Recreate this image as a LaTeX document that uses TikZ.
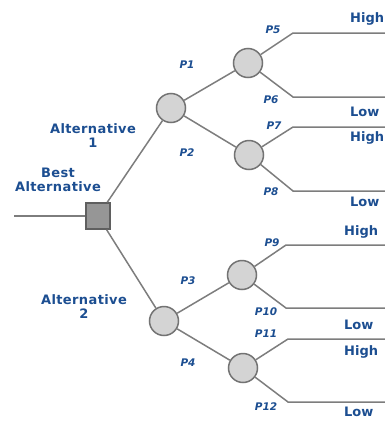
\documentclass[tikz,border=0pt]{standalone}
\usepackage{fontspec}
\setmainfont{DejaVu Sans}
\definecolor{labelblue}{RGB}{28,78,145}
\definecolor{linegray}{RGB}{125,125,125}
\definecolor{rimgray}{RGB}{115,115,115}
\definecolor{discgray}{RGB}{212,212,212}
\definecolor{boxgray}{RGB}{150,150,150}
\definecolor{boxrim}{RGB}{95,95,95}
\begin{document}
\begin{tikzpicture}[x=1pt,y=-1pt,
  branch/.style={draw=linegray,line width=1.5pt},
  chance/.style={circle,draw=rimgray,fill=discgray,line width=1.5pt,minimum size=29pt,inner sep=0pt},
  decision/.style={rectangle,draw=boxrim,fill=boxgray,line width=1.5pt,minimum width=24pt,minimum height=26pt,inner sep=0pt},
  prob/.style={text=labelblue,font=\fontsize{10.5}{12}\selectfont\bfseries\itshape,inner sep=0pt},
  outcome/.style={text=labelblue,font=\fontsize{13}{14}\selectfont\bfseries,inner sep=0pt,anchor=west},
  altlabel/.style={text=labelblue,font=\fontsize{13}{14}\selectfont\bfseries\addfontfeature{LetterSpace=3},align=center,inner sep=0pt}]
\useasboundingbox (0,0) rectangle (385,421);
\clip (0,0) rectangle (385,421);

% decision and chance nodes
\node[decision] (dec) at (98,216) {};
\node[chance] (c1) at (171,108) {};
\node[chance] (c2) at (164,321) {};
\node[chance] (c11) at (248,63) {};
\node[chance] (c12) at (249,155) {};
\node[chance] (c21) at (242,275) {};
\node[chance] (c22) at (243,368) {};

% incoming line and bend points of the leaves
\coordinate (in) at (14,216);
\coordinate (b5) at (293,33);   \coordinate (e5) at (385,33);
\coordinate (b6) at (293,97);   \coordinate (e6) at (385,97);
\coordinate (b7) at (293,127);  \coordinate (e7) at (385,127);
\coordinate (b8) at (293,191);  \coordinate (e8) at (385,191);
\coordinate (b9) at (286,245);  \coordinate (e9) at (385,245);
\coordinate (b10) at (286,308); \coordinate (e10) at (385,308);
\coordinate (b11) at (288,339); \coordinate (e11) at (385,339);
\coordinate (b12) at (288,402); \coordinate (e12) at (385,402);

% branches
\draw[branch] (in) -- (dec);
\draw[branch] (dec) -- (c1);
\draw[branch] (dec) -- (c2);
\draw[branch] (c1) -- (c11);
\draw[branch] (c1) -- (c12);
\draw[branch] (c2) -- (c21);
\draw[branch] (c2) -- (c22);
\draw[branch] (c11) -- (b5) -- (e5);
\draw[branch] (c11) -- (b6) -- (e6);
\draw[branch] (c12) -- (b7) -- (e7);
\draw[branch] (c12) -- (b8) -- (e8);
\draw[branch] (c21) -- (b9) -- (e9);
\draw[branch] (c21) -- (b10) -- (e10);
\draw[branch] (c22) -- (b11) -- (e11);
\draw[branch] (c22) -- (b12) -- (e12);

% probability labels
\node[prob] (p1) at (187,65) {P1};
\node[prob] (p2) at (187,153) {P2};
\node[prob] (p3) at (188,281) {P3};
\node[prob] (p4) at (188,363) {P4};
\node[prob] (p5) at (273,30) {P5};
\node[prob] (p6) at (271,100) {P6};
\node[prob] (p7) at (274,126) {P7};
\node[prob] (p8) at (271,192) {P8};
\node[prob] (p9) at (272,243) {P9};
\node[prob] (p10) at (266,312) {P10};
\node[prob] (p11) at (266,334) {P11};
\node[prob] (p12) at (266,407) {P12};

% outcome labels
\node[outcome] (o5) at (350,19) {High};
\node[outcome] (o6) at (350,112) {Low};
\node[outcome] (o7) at (350,138) {High};
\node[outcome] (o8) at (350,202) {Low};
\node[outcome] (o9) at (344,232) {High};
\node[outcome] (o10) at (344,325) {Low};
\node[outcome] (o11) at (344,352) {High};
\node[outcome] (o12) at (344,412) {Low};

% alternative labels
\node[altlabel] (a1) at (93,136) {Alternative\\1};
\node[altlabel] (best) at (58,180) {Best\\Alternative};
\node[altlabel] (a2) at (84,307) {Alternative\\2};
\end{tikzpicture}
\end{document}
